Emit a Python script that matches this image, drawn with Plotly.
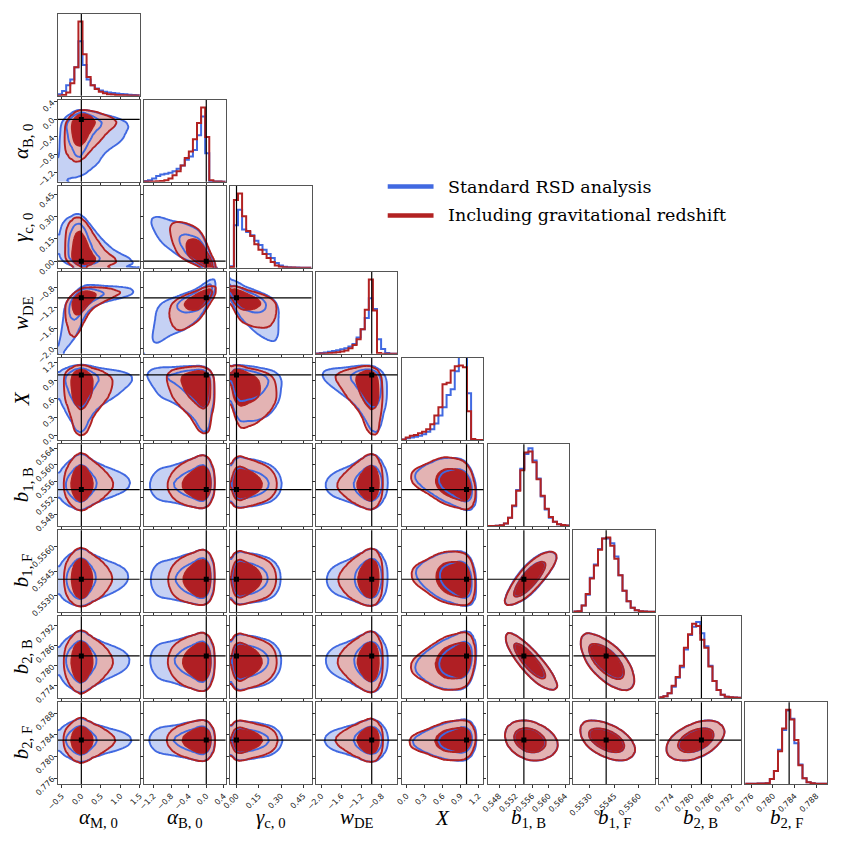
import math
import numpy as np
import plotly.graph_objects as go

# ---- parameters ----
labels = ['<i>α</i><sub>M, 0</sub>', '<i>α</i><sub>B, 0</sub>', '<i>γ</i><sub>c, 0</sub>',
          '<i>w</i><sub>DE</sub>', '<i>X</i>', '<i>b</i><sub>1, B</sub>', '<i>b</i><sub>1, F</sub>',
          '<i>b</i><sub>2, B</sub>', '<i>b</i><sub>2, F</sub>']
truths = [0.0, 0.0, 0.0, -1.0, 1.0, 0.554, 0.554, 0.783, 0.783]
ranges = [[-0.6, 1.5], [-1.42, 0.44], [-0.045, 0.505], [-2.11, -0.49], [-0.08, 1.28],
          [0.5452, 0.565], [0.5520, 0.5570], [0.7704, 0.7949], [0.7749, 0.7900]]
tick_vals = [
    [-0.5, 0.0, 0.5, 1.0, 1.5],
    [-1.2, -0.8, -0.4, 0.0, 0.4],
    [0.0, 0.15, 0.30, 0.45],
    [-2.0, -1.6, -1.2, -0.8],
    [0.0, 0.3, 0.6, 0.9, 1.2],
    [0.548, 0.552, 0.556, 0.560, 0.564],
    [0.5530, 0.5545, 0.5560],
    [0.774, 0.780, 0.786, 0.792],
    [0.776, 0.780, 0.784, 0.788],
]
tick_text = [
    ['−0.5', '0.0', '0.5', '1.0', '1.5'],
    ['−1.2', '−0.8', '−0.4', '0.0', '0.4'],
    ['0.00', '0.15', '0.30', '0.45'],
    ['−2.0', '−1.6', '−1.2', '−0.8'],
    ['0.0', '0.3', '0.6', '0.9', '1.2'],
    ['0.548', '0.552', '0.556', '0.560', '0.564'],
    ['0.5530', '0.5545', '0.5560'],
    ['0.774', '0.780', '0.786', '0.792'],
    ['0.776', '0.780', '0.784', '0.788'],
]

# ---- 1D histograms (20 bins over the axis range), standard RSD (blue) ----
hist_blue = [
    [0.02, 0.06, 0.13, 0.2, 0.35, 0.67, 0.38, 0.2, 0.13, 0.09, 0.065, 0.05, 0.04, 0.033, 0.027, 0.022, 0.018, 0.014, 0.01, 0.006],
    [0.01, 0.02, 0.04, 0.07, 0.09, 0.1, 0.11, 0.13, 0.16, 0.2, 0.27, 0.31, 0.39, 0.57, 0.8, 0.35, 0.01, 0.005, 0.003, 0.002],
    [0.02, 0.52, 0.71, 0.47, 0.44, 0.40, 0.33, 0.28, 0.22, 0.17, 0.12, 0.06, 0.03, 0.012, 0.006, 0.004, 0.003, 0.002, 0.001, 0.0],
    [0.005, 0.01, 0.018, 0.025, 0.035, 0.045, 0.055, 0.07, 0.09, 0.12, 0.2, 0.3, 0.44, 0.68, 0.55, 0.18, 0.06, 0.01, 0.0, 0.0],
    [0.005, 0.02, 0.03, 0.04, 0.05, 0.07, 0.1, 0.13, 0.2, 0.3, 0.4, 0.55, 0.62, 0.84, 1.05, 1.05, 0.57, 0.01, 0.0, 0.0],
    [0.0, 0.0, 0.002, 0.008, 0.03, 0.1, 0.24, 0.44, 0.7, 0.88, 0.95, 0.8, 0.58, 0.36, 0.2, 0.1, 0.05, 0.02, 0.01, 0.004],
    [0.005, 0.01, 0.08, 0.21, 0.42, 0.58, 0.77, 0.9, 0.9, 0.84, 0.68, 0.45, 0.26, 0.13, 0.05, 0.02, 0.01, 0.005, 0.003, 0.002],
    [0.01, 0.02, 0.06, 0.14, 0.25, 0.38, 0.6, 0.78, 0.88, 0.94, 0.8, 0.64, 0.4, 0.21, 0.1, 0.04, 0.015, 0.01, 0.005, 0.002],
    [0.002, 0.003, 0.004, 0.005, 0.006, 0.01, 0.06, 0.16, 0.42, 0.66, 0.9, 0.8, 0.5, 0.24, 0.07, 0.02, 0.01, 0.004, 0.003, 0.002],
]
# including gravitational redshift (red)
hist_red = [
    [0.0, 0.01, 0.04, 0.155, 0.35, 0.915, 0.51, 0.23, 0.13, 0.085, 0.05, 0.03, 0.02, 0.015, 0.01, 0.008, 0.006, 0.005, 0.004, 0.003],
    [0.003, 0.003, 0.005, 0.007, 0.01, 0.02, 0.04, 0.08, 0.13, 0.2, 0.29, 0.37, 0.52, 0.72, 0.91, 0.55, 0.02, 0.005, 0.003, 0.002],
    [0.01, 0.83, 0.91, 0.63, 0.45, 0.39, 0.29, 0.22, 0.17, 0.12, 0.07, 0.03, 0.012, 0.006, 0.004, 0.003, 0.002, 0.001, 0.001, 0.0],
    [0.002, 0.004, 0.006, 0.01, 0.015, 0.02, 0.03, 0.04, 0.07, 0.11, 0.18, 0.3, 0.54, 0.91, 0.53, 0.01, 0.002, 0.001, 0.0, 0.0],
    [0.005, 0.03, 0.05, 0.06, 0.08, 0.1, 0.13, 0.19, 0.3, 0.4, 0.68, 0.7, 0.85, 0.9, 0.91, 0.89, 0.35, 0.01, 0.0, 0.0],
    [0.0, 0.0, 0.002, 0.008, 0.03, 0.1, 0.25, 0.43, 0.68, 0.9, 0.91, 0.78, 0.57, 0.37, 0.21, 0.11, 0.05, 0.02, 0.01, 0.004],
    [0.005, 0.01, 0.08, 0.22, 0.41, 0.57, 0.76, 0.9, 0.91, 0.81, 0.65, 0.45, 0.26, 0.13, 0.05, 0.02, 0.01, 0.005, 0.003, 0.002],
    [0.01, 0.02, 0.06, 0.15, 0.26, 0.4, 0.62, 0.79, 0.92, 0.89, 0.72, 0.62, 0.39, 0.21, 0.1, 0.04, 0.015, 0.01, 0.005, 0.002],
    [0.002, 0.003, 0.004, 0.005, 0.006, 0.01, 0.06, 0.16, 0.4, 0.68, 0.91, 0.79, 0.54, 0.23, 0.07, 0.02, 0.01, 0.004, 0.003, 0.002],
]

# ---- pair correlations (lower triangle, row i has i entries) ----
rho_blue = [
    [],
    [0.15],
    [-0.35, -0.8],
    [0.75, 0.8, -0.7],
    [0.05, -0.25, -0.2, -0.3],
    [0.05, 0.05, 0.0, 0.05, -0.35],
    [0.05, 0.05, 0.0, 0.05, -0.2, 0.8],
    [0.0, 0.0, 0.0, 0.0, 0.25, -0.85, -0.65],
    [0.0, 0.0, 0.0, 0.0, 0.1, -0.25, -0.5, 0.45],
]
rho_red = [
    [],
    [0.25],
    [-0.3, -0.72],
    [0.6, 0.72, -0.6],
    [0.0, -0.2, -0.25, -0.25],
    [0.0, 0.05, 0.0, 0.05, -0.3],
    [0.0, 0.05, 0.0, 0.05, -0.15, 0.82],
    [0.0, 0.0, 0.0, 0.0, 0.2, -0.85, -0.65],
    [0.0, 0.0, 0.0, 0.0, 0.1, -0.25, -0.5, 0.45],
]
# curvature of the banana-shaped pairs (row parameter bends with the column one)
bend_blue = {(1, 0): 0.22, (3, 0): 0.12, (2, 0): 0.06}
bend_red = {(1, 0): 0.08}

BLUE = '#4169e1'
RED = '#b22222'
BLUE_FILL = '#c5d1f4'
RED_LIGHT = '#e3b3b3'
RED_DARK = '#b01f24'
FRAME = '#555555'

N = 60
NP = len(labels)
zs_tab = np.linspace(-6, 6, 4001)
phi_tab = 0.5 * (1 + np.vectorize(math.erf)(zs_tab / math.sqrt(2)))


def marginal(k, h):
    lo, hi = ranges[k]
    edges = np.linspace(lo, hi, len(h) + 1)
    centres = 0.5 * (edges[:-1] + edges[1:])
    hs = np.convolve(np.pad(np.array(h, float), 1, mode='edge'), [0.25, 0.5, 0.25], mode='valid')
    g = np.linspace(lo, hi, N)
    f = np.interp(g, centres, hs) + 1e-5
    F = np.cumsum(f)
    F = (F - 0.5 * f) / F[-1]
    z = np.interp(F, phi_tab, zs_tab)
    return g, f, z


def joint(j, i, hists, rho, bend):
    xs, fx, zx = marginal(j, hists[j])
    ys, fy, zy = marginal(i, hists[i])
    Zx, Zy = np.meshgrid(zx, zy)
    Wy = Zy + bend * (Zx ** 2 - 1)
    q = (Zx ** 2 - 2 * rho * Zx * Wy + Wy ** 2) / (1 - rho ** 2) - Zx ** 2 - Zy ** 2
    p = np.outer(fy, fx) * np.exp(-0.5 * q)
    p = p / p.max()
    flat = np.sort(p.ravel())[::-1]
    cum = np.cumsum(flat) / flat.sum()
    l68 = flat[np.searchsorted(cum, 0.68)]
    l95 = flat[np.searchsorted(cum, 0.95)]
    return xs, ys, np.round(p, 5), l68, l95


# ---- geometry in pixels ----
W = 843
ML, MT, MR, MB = 58, 12, 13, 59
PW = W - ML - MR
PH = W - MT - MB
PANEL = 82.0
PITCH = (PW - PANEL) / 8.0


def px_x(px):
    return (px - ML) / PW


def px_y(py):
    return 1 - (py - MT) / PH


fig = go.Figure()
layout = {}
shapes = []
annotations = []
k = 0
for i in range(NP):
    for j in range(i + 1):
        k += 1
        sx = '' if k == 1 else str(k)
        x0 = j * PITCH / PW
        y1 = 1 - i * PITCH / PH
        base = dict(showgrid=False, zeroline=False, showline=True, mirror=True,
                    linecolor=FRAME, linewidth=1.3, ticks='outside', ticklen=3,
                    tickwidth=0.8, tickcolor='#333333',
                    tickfont=dict(family='DejaVu Sans', size=8, color='#222222'))
        xa = dict(base, domain=[x0, x0 + PANEL / PW], range=ranges[j], anchor='y' + sx,
                  tickvals=tick_vals[j], ticktext=tick_text[j], tickangle=-45,
                  showticklabels=(i == NP - 1))
        if i == j:
            ya = dict(base, domain=[y1 - PANEL / PH, y1], range=[0, 1.1 * max(hist_red[i])],
                      anchor='x' + sx, tickvals=[], showticklabels=False, ticks='')
        else:
            ya = dict(base, domain=[y1 - PANEL / PH, y1], range=ranges[i], anchor='x' + sx,
                      tickvals=tick_vals[i], ticktext=tick_text[i], tickangle=-45,
                      showticklabels=(j == 0))
        layout['xaxis' + sx] = xa
        layout['yaxis' + sx] = ya

        if i == j:
            # step histograms
            for hists, col in ((hist_blue, BLUE), (hist_red, RED)):
                h = hists[i]
                edges = list(np.linspace(ranges[i][0], ranges[i][1], len(h) + 1))
                xs = [edges[0]] + edges + [edges[-1]]
                ys = [0] + list(h) + [h[-1], 0]
                fig.add_trace(go.Scatter(x=xs, y=ys, mode='lines', line=dict(color=col, width=2, shape='hv'),
                                         xaxis='x' + sx, yaxis='y' + sx, showlegend=False, hoverinfo='skip'))
            shapes.append(dict(type='line', xref='x' + sx, yref='y' + sx + ' domain', x0=truths[j], x1=truths[j],
                               y0=0, y1=1, line=dict(color='black', width=1.2)))
            continue

        bx, by, bp, b68, b95 = joint(j, i, hist_blue, rho_blue[i][j], bend_blue.get((i, j), 0.0))
        rx, ry, rp, r68, r95 = joint(j, i, hist_red, rho_red[i][j], bend_red.get((i, j), 0.0))
        common = dict(xaxis='x' + sx, yaxis='y' + sx, showscale=False, hoverinfo='skip', line_smoothing=0.85)
        # plotly shades the region that breaks the constraint, so '<' shades p >= level
        fig.add_trace(go.Contour(x=bx, y=by, z=bp, contours=dict(type='constraint', operation='<', value=b95),
                                 fillcolor=BLUE_FILL, line=dict(width=0), **common))
        fig.add_trace(go.Contour(x=rx, y=ry, z=rp, contours=dict(type='constraint', operation='<', value=r95),
                                 fillcolor=RED_LIGHT, line=dict(width=0), **common))
        fig.add_trace(go.Contour(x=rx, y=ry, z=rp, contours=dict(type='constraint', operation='<', value=r68),
                                 fillcolor=RED_DARK, line=dict(width=0), **common))
        for xs, ys, p, l68, l95, col in ((bx, by, bp, b68, b95, BLUE), (rx, ry, rp, r68, r95, RED)):
            fig.add_trace(go.Contour(x=xs, y=ys, z=p, autocontour=False,
                                     contours=dict(coloring='lines', start=l95, end=l68 + 1e-6,
                                                   size=l68 - l95),
                                     colorscale=[[0, col], [1, col]], line=dict(width=1.9), **common))
        # truth lines and point
        shapes.append(dict(type='line', xref='x' + sx, yref='y' + sx + ' domain', x0=truths[j], x1=truths[j],
                           y0=0, y1=1, line=dict(color='black', width=1.2)))
        shapes.append(dict(type='line', xref='x' + sx + ' domain', yref='y' + sx, x0=0, x1=1,
                           y0=truths[i], y1=truths[i], line=dict(color='black', width=1.2)))
        fig.add_trace(go.Scatter(x=[truths[j]], y=[truths[i]], mode='markers',
                                 marker=dict(symbol='square', size=5, color='black'),
                                 xaxis='x' + sx, yaxis='y' + sx, showlegend=False, hoverinfo='skip'))

# axis titles
for j in range(NP):
    cx = ML + j * PITCH + PANEL / 2
    annotations.append(dict(text=labels[j], x=px_x(cx), y=px_y(818), xref='paper', yref='paper',
                            xanchor='center', yanchor='middle', showarrow=False,
                            font=dict(family='Liberation Serif', size=21, color='black')))
for i in range(1, NP):
    cy = MT + i * PITCH + PANEL / 2
    annotations.append(dict(text=labels[i], x=px_x(22), y=px_y(cy), xref='paper', yref='paper',
                            xanchor='center', yanchor='middle', showarrow=False, textangle=-90,
                            font=dict(family='Liberation Serif', size=21, color='black')))

# legend drawn by hand
for name, col, ly in (('Standard RSD analysis', BLUE, 185), ('Including gravitational redshift', RED, 214)):
    shapes.append(dict(type='line', xref='paper', yref='paper', x0=px_x(389), x1=px_x(435),
                       y0=px_y(ly), y1=px_y(ly), line=dict(color=col, width=4.5)))
    annotations.append(dict(text=name, x=px_x(448), y=px_y(ly), xref='paper', yref='paper',
                            xanchor='left', yanchor='middle', showarrow=False,
                            font=dict(family='DejaVu Serif', size=17.5, color='black')))

fig.update_layout(**layout)
fig.update_layout(width=W, height=W, margin=dict(l=ML, r=MR, t=MT, b=MB),
                  plot_bgcolor='white', paper_bgcolor='white', showlegend=False,
                  shapes=shapes, annotations=annotations)
fig.write_html("out.html", config={'displayModeBar': False},
               post_script="document.body.style.margin='0';")
